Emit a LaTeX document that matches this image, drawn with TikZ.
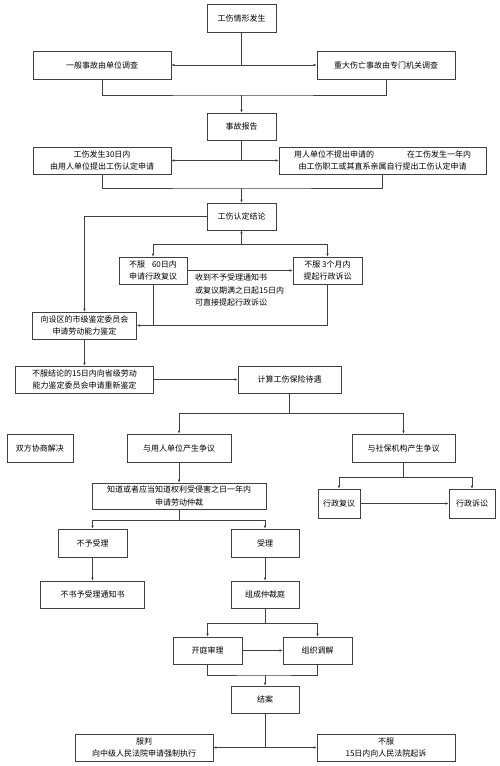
\documentclass[tikz,border=0pt]{standalone}
\usepackage{fontspec}
\newfontfamily\cjk{Noto Sans CJK SC}
\usetikzlibrary{arrows.meta}
\begin{document}
\begin{tikzpicture}[x=1pt,y=-1pt,
  box/.style={draw=black!75, line width=0.7pt, minimum height=27pt, inner sep=1pt, align=center, font=\cjk\fontsize{8}{12.5}\selectfont},
  note/.style={inner sep=0pt, align=left, font=\cjk\fontsize{8}{12.5}\selectfont},
  line/.style={draw=black!75, line width=0.7pt},
  arr/.style={line, -{Latex[length=3pt,width=2.6pt]}}]
\useasboundingbox (0,0) rectangle (500,766);

\node[box, minimum width=69pt, minimum height=28pt] (occur) at (241.5,18) {工伤情形发生};
\node[box, minimum width=138pt, minimum height=28pt] (general) at (102,65) {一般事故由单位调查};
\node[box, minimum width=138pt, minimum height=28pt] (major) at (386,65) {重大伤亡事故由专门机关调查};
\node[box, minimum width=69pt] (report) at (241.5,126.5) {事故报告};
\node[box, minimum width=138pt] (unitapply) at (102,160.5) {工伤发生30日内\\由用人单位提出工伤认定申请};
\node[box, minimum width=207pt] (selfapply) at (382.5,160.5) {用人单位不提出申请的\hspace{33pt}在工伤发生一年内\\由工伤职工或其直系亲属自行提出工伤认定申请};
\node[box, minimum width=69pt] (conclusion) at (241.5,216.5) {工伤认定结论};
\node[box, minimum width=68pt] (review) at (153,270.5) {不服\hspace{7pt}60日内\\申请行政复议};
\node[box, minimum width=69pt] (suit) at (327.5,270.5) {不服 3个月内\\提起行政诉讼};
\node[note, anchor=north west] (direct) at (195,274) {收到不予受理通知书\\或复议期满之日起15日内\\可直接提起行政诉讼};
\node[box, minimum width=104pt] (appraise) at (84.5,325.5) {向设区的市级鉴定委员会\\申请劳动能力鉴定};
\node[box, minimum width=138pt] (reappraise) at (84.5,379.5) {不服结论的15日内向省级劳动\\能力鉴定委员会申请重新鉴定};
\node[box, minimum width=103pt] (benefit) at (289.5,379.5) {计算工伤保险待遇};
\node[box, minimum width=66pt, minimum height=28pt] (negotiate) at (40,448) {双方协商解决};
\node[box, minimum width=104pt, minimum height=28pt] (employer) at (179,448) {与用人单位产生争议};
\node[box, minimum width=103pt, minimum height=28pt] (social) at (403.5,448) {与社保机构产生争议};
\node[box, minimum width=174pt, minimum height=26pt] (arbitrate) at (179,496) {知道或者应当知道权利受侵害之日一年内\\申请劳动仲裁};
\node[box, minimum width=42pt, minimum height=29pt] (adminreview) at (339,503.5) {行政复议};
\node[box, minimum width=46pt, minimum height=29pt] (adminsuit) at (472,503.5) {行政诉讼};
\node[box, minimum width=69pt, minimum height=28pt] (reject) at (92.5,543) {不予受理};
\node[box, minimum width=68pt, minimum height=28pt] (accept) at (265,543) {受理};
\node[box, minimum width=104pt] (notice) at (92.5,594.5) {不书予受理通知书};
\node[box, minimum width=68pt] (tribunal) at (265,594.5) {组成仲裁庭};
\node[box, minimum width=69pt] (hearing) at (207.5,650.5) {开庭审理};
\node[box, minimum width=69pt] (mediate) at (317.5,650.5) {组织调解};
\node[box, minimum width=68pt] (close) at (265,699.5) {结案};
\node[box, minimum width=138pt] (obey) at (144,747.5) {服判\\向中级人民法院申请强制执行};
\node[box, minimum width=138pt] (appeal) at (386,747.5) {不服\\15日内向人民法院起诉};

\coordinate (j1) at (241.5,65);
\coordinate (m1) at (241.5,95);
\coordinate (j2) at (241.5,160.5);
\coordinate (m2) at (241.5,188);
\coordinate (j3) at (241.5,244);
\coordinate (j4) at (289.5,413);
\coordinate (j5) at (403.5,477);
\coordinate (j6) at (179,520);
\coordinate (j7) at (265,623);
\coordinate (m4) at (265,675);
\coordinate (j8) at (265,747.5);

\draw[line] (occur.south) -- (j1);
\draw[arr] (j1) -- (general.east);
\draw[arr] (j1) -- (major.west);
\draw[line] (general.south) |- (m1) -| (major.south);
\draw[arr] (m1) -- (report.north);

\draw[line] (report.south) -- (j2);
\draw[arr] (j2) -- (unitapply.east);
\draw[arr] (j2) -- (selfapply.west);
\draw[line] (unitapply.south) |- (m2) -| (selfapply.south);
\draw[arr] (m2) -- (conclusion.north);

\draw[arr] (conclusion.west) -| (appraise.north);
\draw[arr] (j3) -- (conclusion.south);
\draw[arr] (j3) -| (review.north);
\draw[arr] (j3) -| (suit.north);
\draw[arr] (review.east) -- (suit.west);
\draw[arr] (suit.south) |- (appraise.east);
\draw[line] (review.south) -- (review.south |- appraise.east);

\draw[arr] (appraise.south) -- (reappraise.north);
\draw[arr] (reappraise.east) -- (benefit.west);

\draw[line] (benefit.south) -- (j4);
\draw[arr] (j4) -| (employer.north);
\draw[arr] (j4) -| (social.north);

\draw[arr] (employer.south) -- (arbitrate.north);
\draw[line] (social.south) -- (j5);
\draw[arr] (j5) -| (adminreview.north);
\draw[arr] (j5) -| (adminsuit.north);
\draw[arr] (adminreview.east) -- (adminsuit.west);

\draw[line] (arbitrate.south) -- (j6);
\draw[arr] (j6) -| (reject.north);
\draw[arr] (j6) -| (accept.north);
\draw[arr] (reject.south) -- (notice.north);
\draw[arr] (accept.south) -- (tribunal.north);

\draw[line] (tribunal.south) -- (j7);
\draw[arr] (j7) -| (hearing.north);
\draw[arr] (j7) -| (mediate.north);
\draw[arr] (hearing.east) -- (mediate.west);
\draw[line] (hearing.south) |- (m4) -| (mediate.south);
\draw[arr] (m4) -- (close.north);

\draw[line] (close.south) -- (j8);
\draw[arr] (j8) -- (obey.east);
\draw[arr] (j8) -- (appeal.west);
\end{tikzpicture}
\end{document}
